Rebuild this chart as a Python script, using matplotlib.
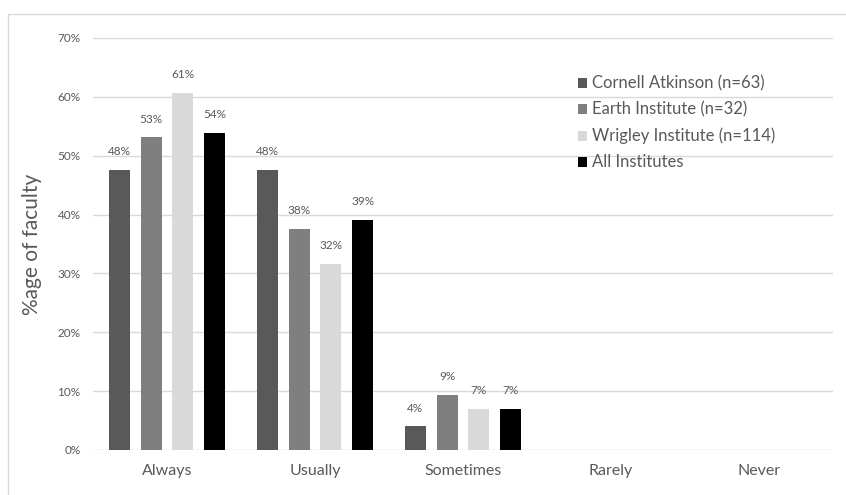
import numpy as np
import matplotlib
matplotlib.use("Agg")
import matplotlib.pyplot as plt
from matplotlib.patches import Rectangle

plt.rcParams["font.family"] = ["Lato", "DejaVu Sans"]

# Response categories and share of faculty (%) per institute
categories = ["Always", "Usually", "Sometimes", "Rarely", "Never"]
series_names = ["Cornell Atkinson (n=63)", "Earth Institute (n=32)",
                "Wrigley Institute (n=114)", "All Institutes"]
cornell = [47.6, 47.6, 4.0, np.nan, np.nan]
earth = [53.1, 37.5, 9.4, np.nan, np.nan]
wrigley = [60.6, 31.6, 7.0, np.nan, np.nan]
all_inst = [53.9, 39.1, 6.9, np.nan, np.nan]
colors = ["#595959", "#7f7f7f", "#d9d9d9", "#000000"]
yticks = [0, 10, 20, 30, 40, 50, 60, 70]

fig = plt.figure(figsize=(8.46, 4.95), dpi=100)
ax = fig.add_axes([93 / 846, 1 - 450 / 495, 740 / 846, 412 / 495])

x = np.arange(len(categories))
step = 0.216
width = 0.142
for i, (vals, name, c) in enumerate(zip([cornell, earth, wrigley, all_inst],
                                        series_names, colors)):
    pos = x + (i - 1.5) * step
    vals = np.array(vals, dtype=float)
    ax.bar(pos, np.nan_to_num(vals), width, color=c, label=name, zorder=3)
    for px, v in zip(pos, vals):
        if not np.isnan(v):
            ax.text(px, v + 2.2, f"{v:.0f}%", ha="center", va="bottom",
                    fontsize=8.5, color="#595959")

ax.set_xlim(-0.5, len(categories) - 0.5)
ax.set_ylim(0, 70)
ax.set_yticks(yticks)
ax.set_yticklabels([f"{t}%" for t in yticks])
ax.set_xticks(x)
ax.set_xticklabels(categories)
ax.grid(axis="y", color="#d9d9d9", linewidth=1, zorder=0)
for s in ax.spines.values():
    s.set_visible(False)
ax.tick_params(axis="y", length=0, labelsize=8.5, labelcolor="#595959", pad=9)
ax.tick_params(axis="x", length=0, labelsize=11.5, labelcolor="#595959", pad=10)
ax.set_ylabel("%age of faculty", fontsize=15, color="#595959")
ax.yaxis.set_label_coords(-51 / 740, 0.5)

leg = ax.legend(loc="upper left", bbox_to_anchor=(470 / 740, 0.945), frameon=False,
                fontsize=12, labelcolor="#595959", handlelength=0.55,
                handleheight=0.55, handletextpad=0.3, labelspacing=0.6)

# chart frame
fig.patches.append(Rectangle((8 / 846, -0.1), 1.0, 1 - 14 / 495 + 0.1,
                             transform=fig.transFigure, fill=False,
                             edgecolor="#d9d9d9", linewidth=1))

fig.savefig("out.png", dpi=100)
